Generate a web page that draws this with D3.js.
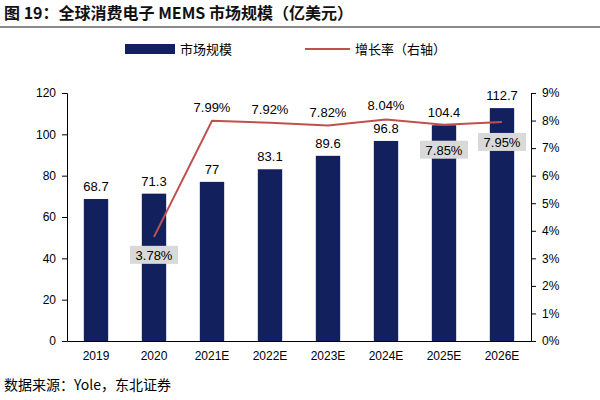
<!DOCTYPE html>
<html><head><meta charset="utf-8">
<script src="https://cdn.jsdelivr.net/npm/d3@7"></script>
<style>body{margin:0;background:#fff;font-family:"Liberation Sans",Arial,sans-serif}</style>
</head><body><svg id="c" width="600" height="400"></svg>
<script>
// Chart values
const years = ['2019', '2020', '2021E', '2022E', '2023E', '2024E', '2025E', '2026E'];
const marketSize = [68.7, 71.3, 77, 83.1, 89.6, 96.8, 104.4, 112.7];
const growth = [null, 3.78, 7.99, 7.92, 7.82, 8.04, 7.85, 7.95];
const leftTicks = [0, 20, 40, 60, 80, 100, 120];
const rightTicks = [0, 1, 2, 3, 4, 5, 6, 7, 8, 9];

const svg = d3.select('#c');
const m = { l: 67, r: 531, t: 93, b: 341 };
const navy = '#13205e', red = '#c0504d';
const cjk = '"Noto Sans CJK SC",sans-serif';

// Title band
svg.append('text').attr('x', 4).attr('y', 19).attr('font-size', 16).attr('font-weight', 'bold')
  .attr('font-family', cjk).attr('fill', '#111')
  .text('图 19：全球消费电子 MEMS 市场规模（亿美元）');
svg.append('line').attr('x1', 0).attr('x2', 600).attr('y1', 27).attr('y2', 27)
  .attr('stroke', '#8a8a8a').attr('stroke-width', 2);

const x = d3.scaleBand().domain(years).range([m.l, m.r]).paddingInner(0.58).paddingOuter(0.29);
const y = d3.scaleLinear().domain([0, 120]).range([m.b, m.t]);
const y2 = d3.scaleLinear().domain([0, 9]).range([m.b, m.t]);

// Axes
svg.append('g').attr('transform', `translate(${m.l},0)`)
  .call(d3.axisLeft(y).tickValues(leftTicks).tickSize(5).tickPadding(6))
  .call(g => g.selectAll('text').attr('font-size', 12));
svg.append('g').attr('transform', `translate(${m.r},0)`)
  .call(d3.axisRight(y2).tickValues(rightTicks).tickSize(5).tickPadding(6).tickFormat(d => d + '%'))
  .call(g => g.selectAll('text').attr('font-size', 12));
svg.append('g').attr('transform', `translate(0,${m.b})`)
  .call(d3.axisBottom(x).tickSize(0).tickPadding(10))
  .call(g => g.selectAll('text').attr('font-size', 12));
svg.selectAll('.domain, .tick line').attr('stroke', '#000');
svg.selectAll('.tick text').attr('fill', '#000');

// Bars
svg.selectAll('.bar').data(years).join('rect').attr('class', 'bar')
  .attr('x', d => x(d)).attr('width', x.bandwidth())
  .attr('y', (d, i) => y(marketSize[i])).attr('height', (d, i) => m.b - y(marketSize[i]))
  .attr('fill', navy);
svg.selectAll('.blab').data(years).join('text').attr('class', 'blab')
  .attr('x', d => x(d) + x.bandwidth() / 2).attr('y', (d, i) => y(marketSize[i]) - 8)
  .attr('text-anchor', 'middle').attr('font-size', 13).text((d, i) => marketSize[i]);

// Growth line
const pts = years.map((d, i) => ({ d, v: growth[i] })).filter(p => p.v != null);
svg.append('path').datum(pts).attr('fill', 'none').attr('stroke', red).attr('stroke-width', 2)
  .attr('d', d3.line().x(p => x(p.d) + x.bandwidth() / 2).y(p => y2(p.v)));

const below = { '2020': 18, '2025E': 25, '2026E': 20 };
pts.forEach(p => {
  const cx = x(p.d) + x.bandwidth() / 2;
  const isBelow = below[p.d] != null;
  const ty = isBelow ? y2(p.v) + below[p.d] : y2(p.v) - 14;
  if (isBelow) {
    svg.append('rect').attr('x', cx - 24).attr('y', ty - 9).attr('width', 48).attr('height', 18)
      .attr('fill', '#d9d9d9');
  }
  svg.append('text').attr('x', cx).attr('y', ty + 5).attr('text-anchor', 'middle')
    .attr('font-size', 13).text(p.v.toFixed(2) + '%');
});

// Legend
svg.append('rect').attr('x', 125).attr('y', 44).attr('width', 50).attr('height', 10).attr('fill', navy);
svg.append('text').attr('x', 180).attr('y', 54).attr('font-size', 13).attr('font-family', cjk).text('市场规模');
svg.append('line').attr('x1', 305).attr('x2', 350).attr('y1', 49).attr('y2', 49).attr('stroke', red).attr('stroke-width', 2);
svg.append('text').attr('x', 355).attr('y', 54).attr('font-size', 13).attr('font-family', cjk).text('增长率（右轴）');

// Source
svg.append('text').attr('x', 4).attr('y', 390).attr('font-size', 14).attr('font-family', cjk)
  .text('数据来源：Yole，东北证券');
</script></body></html>
